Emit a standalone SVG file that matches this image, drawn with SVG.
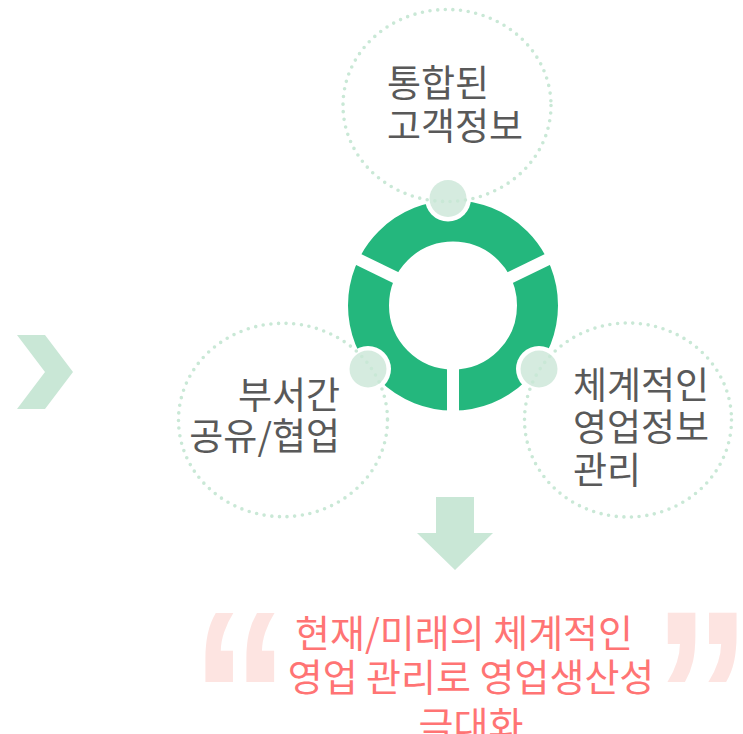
<svg xmlns="http://www.w3.org/2000/svg" width="743" height="734" viewBox="0 0 743 734">
<style>
.dots{fill:none;stroke:#c9e8d6;stroke-width:3.6;stroke-linecap:round;stroke-dasharray:0 7.69}
.bub-w{fill:#ffffff}
.bub{fill:#d5ebdf}
.lbl{font-family:"Noto Sans CJK KR","Noto Sans",sans-serif;font-size:37px;fill:#595959}
.res{font-family:"Noto Sans CJK KR","Noto Sans",sans-serif;font-size:38px;fill:#ff7474}
.quote{font-family:"Liberation Sans",Arial,sans-serif;font-weight:bold;font-size:245px;fill:#fde4e1}
.pale{fill:#c9e7d6}
</style>
<rect width="743" height="734" fill="#ffffff"/>
<g id="connectors">
<polygon id="chevron" class="pale" points="17,335 45,335 73,372 45,409 17,409 45,372"/>
<polygon id="down-arrow" class="pale" points="436,497 474,497 474,533 493,533 455,570 417,533 436,533"/>
</g>
<g id="ring">
<circle cx="453" cy="305.5" r="84.5" fill="none" stroke="#24b77d" stroke-width="41"/>
<g stroke="#ffffff" stroke-width="12">
<line x1="453" y1="305.5" x2="453" y2="420"/>
<line x1="453" y1="305.5" x2="349.6" y2="255.1"/>
<line x1="453" y1="305.5" x2="556.4" y2="255.1"/>
</g>
</g>
<g id="node-top">
<circle class="bub-w" cx="448" cy="198.5" r="23"/>
<circle class="bub" cx="448" cy="198.5" r="18.5"/>
<ellipse class="dots" cx="447" cy="105.5" rx="104" ry="96"/>
<text class="lbl" x="387" y="97">통합된</text>
<text class="lbl" x="387" y="140">고객정보</text>
</g>
<g id="node-left">
<circle class="bub-w" cx="368" cy="369" r="23"/>
<circle class="bub" cx="368" cy="369" r="18.5"/>
<ellipse class="dots" cx="283" cy="420" rx="104.5" ry="96.7"/>
<text class="lbl" x="340" y="409" text-anchor="end">부서간</text>
<text class="lbl" x="340" y="450" text-anchor="end">공유/협업</text>
</g>
<g id="node-right">
<circle class="bub-w" cx="539" cy="369" r="23"/>
<circle class="bub" cx="539" cy="369" r="18.5"/>
<ellipse class="dots" cx="628" cy="420" rx="103.5" ry="97"/>
<text class="lbl" x="573" y="399">체계적인</text>
<text class="lbl" x="573" y="441">영업정보</text>
<text class="lbl" x="573" y="484">관리</text>
</g>
<g id="result">
<text class="quote" transform="translate(240,782) scale(0.8,1)" text-anchor="middle">“</text>
<text class="quote" transform="translate(702,782) scale(0.8,1)" text-anchor="middle">”</text>
<text class="res" x="464" y="647" text-anchor="middle">현재/미래의 체계적인</text>
<text class="res" x="471" y="691" text-anchor="middle">영업 관리로 영업생산성</text>
<text class="res" x="471" y="739" text-anchor="middle">극대화</text>
</g>
</svg>
